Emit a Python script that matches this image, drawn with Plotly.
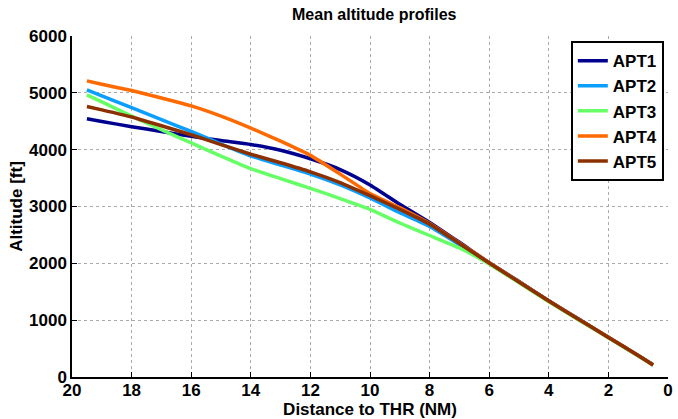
import plotly.graph_objects as go

distance = [19.5, 19, 18, 17, 16, 15, 14, 13, 12, 11, 10, 9, 8, 7, 6, 5, 4, 3, 2, 1, 0.5]
apt1 = [4545, 4495, 4405, 4320, 4235, 4160, 4090, 3990, 3840, 3650, 3380, 3040, 2720, 2370, 2010, 1680, 1340, 1020, 700, 380, 215]
apt2 = [5050, 4945, 4740, 4530, 4320, 4100, 3890, 3730, 3570, 3380, 3150, 2890, 2650, 2330, 2000, 1670, 1335, 1015, 695, 375, 210]
apt3 = [4965, 4840, 4590, 4350, 4120, 3885, 3665, 3490, 3320, 3140, 2950, 2710, 2490, 2270, 1990, 1660, 1325, 1005, 690, 370, 210]
apt4 = [5210, 5150, 5040, 4910, 4770, 4590, 4380, 4150, 3900, 3570, 3230, 2980, 2700, 2360, 2010, 1675, 1338, 1018, 698, 378, 212]
apt5 = [4760, 4700, 4575, 4420, 4262, 4090, 3920, 3770, 3610, 3420, 3190, 2950, 2690, 2350, 2005, 1672, 1336, 1016, 697, 377, 211]

names = ["APT1", "APT2", "APT3", "APT4", "APT5"]
series = [apt1, apt2, apt3, apt4, apt5]
colors = ["#00008F", "#0A9EFF", "#66FF66", "#FF6A00", "#8C3000"]

x_ticks = [20, 18, 16, 14, 12, 10, 8, 6, 4, 2, 0]
y_ticks = [0, 1000, 2000, 3000, 4000, 5000, 6000]

fig = go.Figure()
for n, s, c in zip(names, series, colors):
    fig.add_trace(go.Scatter(x=distance, y=s, mode="lines", name=n,
                             line=dict(color=c, width=3.5, shape="spline", smoothing=0.5)))

ff = "Liberation Sans, Arial, sans-serif"
fig.update_layout(
    width=678, height=419,
    margin=dict(l=72, r=5, t=36, b=41),
    paper_bgcolor="white", plot_bgcolor="white",
    title=dict(text="Mean altitude profiles", x=0.552, xanchor="center", y=0.965, yanchor="middle",
               font=dict(family=ff, size=16, color="black", weight="bold")),
    font=dict(family=ff, color="black"),
    showlegend=True,
    legend=dict(x=0.993, y=0.985, xanchor="right", yanchor="top",
                bordercolor="black", borderwidth=2, bgcolor="white",
                font=dict(family=ff, size=17, color="black", weight="bold"),
                tracegroupgap=0, itemwidth=30),
)
fig.update_xaxes(
    range=[20, 0], tickmode="array", tickvals=x_ticks,
    tickfont=dict(size=17, family=ff, color="black", weight="bold"),
    ticks="inside", ticklen=5, tickcolor="black", tickwidth=1,
    ticklabelstandoff=-3,
    showline=True, linecolor="black", linewidth=1.5,
    showgrid=True, gridcolor="#AAAAAA", griddash="dot", gridwidth=1,
    zeroline=False,
    title=dict(text="Distance to THR (NM)", font=dict(size=17, family=ff, color="black", weight="bold"), standoff=2),
)
fig.update_yaxes(
    range=[0, 6000], tickmode="array", tickvals=y_ticks,
    tickfont=dict(size=17, family=ff, color="black", weight="bold"),
    ticks="inside", ticklen=5, tickcolor="black", tickwidth=1,
    showline=True, linecolor="black", linewidth=1.5,
    showgrid=True, gridcolor="#AAAAAA", griddash="dot", gridwidth=1,
    zeroline=False,
    title=dict(text="Altitude [ft]", font=dict(size=17, family=ff, color="black", weight="bold"), standoff=2),
)
fig.write_html("out.html")
